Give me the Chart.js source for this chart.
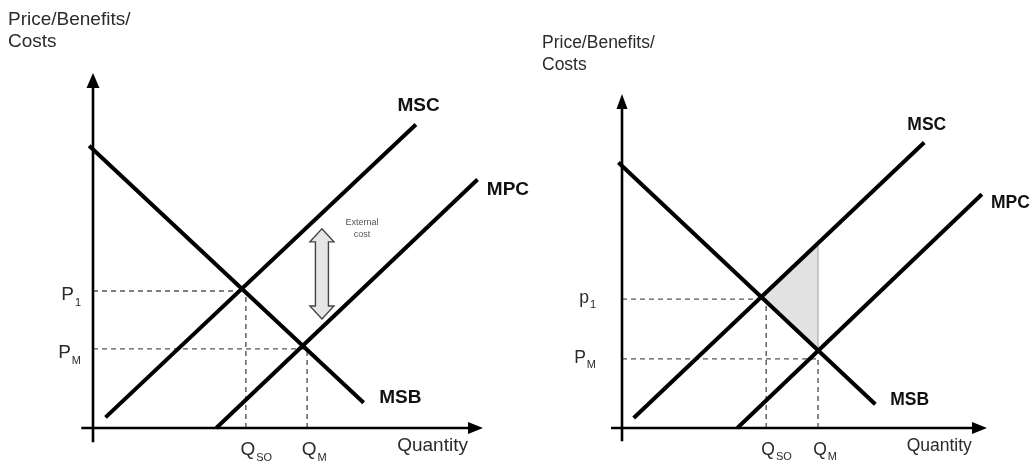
<!DOCTYPE html>
<html>
<head>
<meta charset="utf-8">
<script src="https://cdn.jsdelivr.net/npm/chart.js@4.4.0/dist/chart.umd.min.js"></script>
<style>
  html, body { margin: 0; padding: 0; background: #fff; }
  #wrap { position: relative; width: 1031px; height: 461px; overflow: hidden; }
  .pane { position: absolute; top: 0; height: 461px; }
  #left  { left: 0;     width: 545px; }
  #right { left: 515px; width: 516px; }
</style>
</head>
<body>
<div id="wrap">
  <div class="pane" id="left"><canvas id="leftChart"></canvas></div>
  <div class="pane" id="right"><canvas id="rightChart"></canvas></div>
</div>
<script>
/* ===== data (same curves in both panels, arbitrary units 0..100) ===== */
const curveNames = ['MSC', 'MPC', 'MSB'];
const msc = [[3.2, 3.0], [82.8, 85.5]];
const mpc = [[31.6, 0], [98.6, 70]];
const msb = [[-1, 79.5], [69.4, 7.1]];

const leftPriceLabels  = [['P', '1'], ['P', 'M']];
const leftPrices       = [38.6, 22.3];
const leftQuantities   = [39.2, 54.9];
const rightPriceLabels = [['p', '1'], ['P', 'M']];
const rightPrices      = [38.6, 20.7];
const rightQuantities  = [39.5, 53.7];
const quantityLabels   = [['Q', 'SO'], ['Q', 'M']];

const costArrow = [58.7, 30.7, 56.1];            // x, bottom, top
const welfareLoss = [[38.3, 39.3], [53.7, 55.0], [53.7, 22.8], [38.3, 39.3]];

const FONT = '"Liberation Sans", Arial, sans-serif';
const pts = arr => arr.map(([x, y]) => ({ x, y }));

/* ===== drawing helpers ===== */
function drawSub(ctx, main, sub, x, y, size, align, color) {
  ctx.fillStyle = color;
  ctx.textBaseline = 'alphabetic';
  ctx.textAlign = 'left';
  ctx.font = size + 'px ' + FONT;
  const wm = ctx.measureText(main).width;
  const subSize = Math.round(size * 0.6);
  ctx.font = subSize + 'px ' + FONT;
  const ws = ctx.measureText(sub).width;
  let sx = x;
  if (align === 'right') sx = x - wm - ws - 1;
  if (align === 'center') sx = x - wm / 2;
  ctx.font = size + 'px ' + FONT;
  ctx.fillText(main, sx, y);
  ctx.font = subSize + 'px ' + FONT;
  ctx.fillText(sub, sx + wm + 1, y + size * 0.3);
}

const econPlugin = {
  id: 'econ',
  afterDatasetsDraw(chart, args, o) {
    const { ctx, chartArea: a, scales: { x, y } } = chart;
    const X = v => x.getPixelForValue(v);
    const Y = v => y.getPixelForValue(v);
    ctx.save();

    // axis arrowheads
    ctx.fillStyle = '#000';
    const tx = X(0), ty = Y(100);
    ctx.beginPath();
    ctx.moveTo(tx, ty); ctx.lineTo(tx - o.head / 2, ty + 15); ctx.lineTo(tx + o.head / 2, ty + 15);
    ctx.closePath(); ctx.fill();
    const rx = X(100), ry = Y(0);
    ctx.beginPath();
    ctx.moveTo(rx, ry); ctx.lineTo(rx - 15, ry - 6); ctx.lineTo(rx - 15, ry + 6);
    ctx.closePath(); ctx.fill();

    // axis titles
    ctx.fillStyle = '#2b2b2b';
    ctx.font = o.size + 'px ' + FONT;
    ctx.textAlign = 'left';
    ctx.textBaseline = 'alphabetic';
    ctx.fillText('Price/Benefits/', a.left + o.titleDx, a.top + o.titleDy);
    ctx.fillText('Costs', a.left + o.titleDx, a.top + o.titleDy + 22);
    ctx.fillText('Quantity', X(78), a.bottom + 23);

    // price and quantity labels
    o.prices.forEach((p, i) => {
      drawSub(ctx, o.priceLabels[i][0], o.priceLabels[i][1], a.left - o.pGap, Y(p) + o.pDy, o.size, 'right', '#2b2b2b');
    });
    o.quantities.forEach((q, i) => {
      drawSub(ctx, quantityLabels[i][0], quantityLabels[i][1], X(q) + 2, a.bottom + 27, o.size, 'center', '#2b2b2b');
    });

    // curve names
    ctx.fillStyle = '#111';
    ctx.font = 'bold ' + o.size + 'px ' + FONT;
    ctx.textAlign = 'center';
    ctx.textBaseline = 'middle';
    const namePos = [[83.5, 90.8], [106.4, 67.2], [78.8, 8.4]];
    curveNames.forEach((n, i) => ctx.fillText(n, X(namePos[i][0]), Y(namePos[i][1])));

    // external cost double arrow
    if (o.costArrow) {
      const cx = X(costArrow[0]), by = Y(costArrow[1]), tp = Y(costArrow[2]);
      const hw = 12, sw = 6.5, hl = 13;
      ctx.beginPath();
      ctx.moveTo(cx, tp);
      ctx.lineTo(cx + hw, tp + hl); ctx.lineTo(cx + sw, tp + hl);
      ctx.lineTo(cx + sw, by - hl); ctx.lineTo(cx + hw, by - hl);
      ctx.lineTo(cx, by);
      ctx.lineTo(cx - hw, by - hl); ctx.lineTo(cx - sw, by - hl);
      ctx.lineTo(cx - sw, tp + hl); ctx.lineTo(cx - hw, tp + hl);
      ctx.closePath();
      ctx.fillStyle = '#e6e6e6';
      ctx.fill();
      ctx.strokeStyle = '#444';
      ctx.lineWidth = 1.4;
      ctx.stroke();
      ctx.fillStyle = '#555';
      ctx.font = '9px ' + FONT;
      ctx.fillText('External', X(69), Y(58));
      ctx.fillText('cost', X(69), Y(54.4));
    }
    ctx.restore();
  }
};

function buildChart(id, cfg) {
  const solid = (data, w) => ({ data: pts(data), showLine: true, borderColor: '#000', borderWidth: w,
                                pointRadius: 0, borderCapStyle: 'butt', fill: false });
  const dash = data => ({ data: pts(data), showLine: true, borderColor: '#555', borderWidth: 1.4,
                          borderDash: [5, 4], pointRadius: 0, fill: false });
  const [p1, pm] = cfg.prices;
  const [qso, qm] = cfg.quantities;
  const datasets = [
    solid(msc, 4), solid(mpc, 4), solid(msb, 4),
    solid([[0, -4], [0, 98]], 2.6), solid([[-3, 0], [98, 0]], 2.6),
    dash([[0, p1], [qso, p1]]), dash([[qso, 0], [qso, p1]]),
    dash([[0, pm], [qm, pm]]), dash([[qm, 0], [qm, pm]])
  ];
  if (cfg.shade) {
    datasets.push({ data: pts(welfareLoss), showLine: true, borderColor: '#aaa', borderWidth: 1.2,
                    backgroundColor: '#e2e2e2', fill: 'shape', pointRadius: 0 });
  }
  return new Chart(document.getElementById(id), {
    type: 'scatter',
    data: { datasets },
    options: {
      responsive: true,
      maintainAspectRatio: false,
      animation: false,
      events: [],
      clip: false,
      layout: { padding: cfg.padding },
      scales: {
        x: { type: 'linear', min: 0, max: 100, display: false },
        y: { type: 'linear', min: 0, max: 100, display: false }
      },
      plugins: {
        legend: { display: false },
        tooltip: { enabled: false },
        econ: cfg.econ
      }
    },
    plugins: [econPlugin]
  });
}

buildChart('leftChart', {
  prices: leftPrices, quantities: leftQuantities, shade: false,
  padding: { left: 93, right: 62, top: 73, bottom: 33 },
  econ: { size: 19, head: 13, titleDx: -85, titleDy: -48, pGap: 12, pDy: 9,
          prices: leftPrices, priceLabels: leftPriceLabels, quantities: leftQuantities, costArrow: true }
});

buildChart('rightChart', {
  prices: rightPrices, quantities: rightQuantities, shade: true,
  padding: { left: 107, right: 44, top: 94, bottom: 33 },
  econ: { size: 17.5, head: 11, titleDx: -80, titleDy: -46, pGap: 26, pDy: 4,
          prices: rightPrices, priceLabels: rightPriceLabels, quantities: rightQuantities, costArrow: false }
});
</script>
</body>
</html>
